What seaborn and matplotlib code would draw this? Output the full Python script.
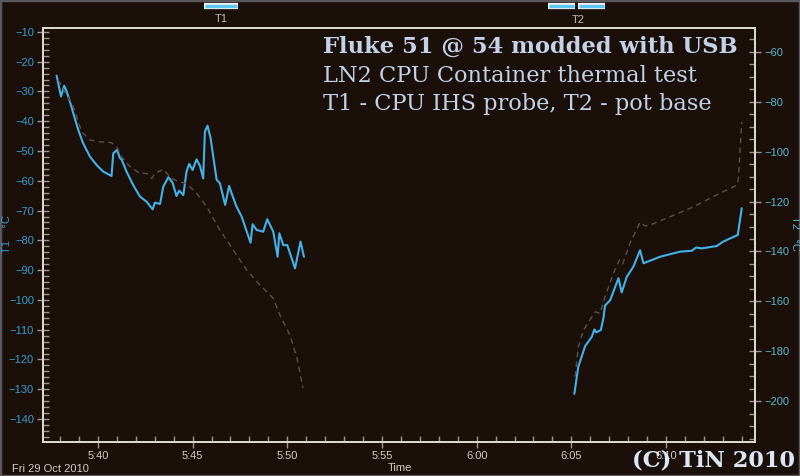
import matplotlib
matplotlib.use("Agg")
import numpy as np
import pandas as pd
import seaborn as sns
import matplotlib.pyplot as plt
from matplotlib.ticker import MultipleLocator, FuncFormatter
from matplotlib.lines import Line2D
from matplotlib.patches import Rectangle

# ---- data (time in minutes after 5:00, Fri 29 Oct 2010) ----
t1_a_time = [37.82, 38.05, 38.22, 38.35, 38.52, 38.70, 38.96, 39.22, 39.58, 39.93,
             40.28, 40.72, 40.81, 41.02, 41.16, 41.25, 41.51, 41.86, 42.22, 42.57,
             42.89, 43.01, 43.28, 43.45, 43.72, 43.94, 44.15, 44.29, 44.51, 44.68,
             44.82, 45.00, 45.21, 45.39, 45.56, 45.65, 45.79, 45.95, 46.27, 46.44,
             46.72, 46.93, 47.06, 47.32, 47.59, 48.06, 48.17, 48.38, 48.73, 48.94,
             49.26, 49.49, 49.58, 49.79, 50.00, 50.41, 50.70, 50.88]
t1_a_temp = [-24.7, -31.7, -28.1, -30.0, -33.4, -37.3, -42.9, -47.4, -51.9, -54.7,
             -56.9, -58.4, -50.8, -49.6, -52.4, -52.8, -56.9, -61.4, -65.3, -67.0,
             -69.6, -67.3, -67.8, -62.0, -58.8, -60.6, -65.1, -63.3, -64.8, -56.9,
             -54.3, -56.4, -52.8, -55.0, -59.2, -43.5, -41.5, -45.7, -59.7, -60.8,
             -68.1, -61.7, -64.2, -68.7, -72.0, -80.8, -74.6, -76.5, -77.1, -72.9,
             -77.1, -85.5, -77.6, -81.6, -81.6, -89.4, -80.4, -85.5]
t1_b_time = [65.16, 65.37, 65.73, 66.08, 66.22, 66.31, 66.56, 66.70, 66.78, 67.05,
             67.49, 67.66, 67.93, 68.28, 68.63, 68.81, 69.69, 70.74, 71.36, 71.59,
             71.89, 72.68, 73.03, 73.30, 73.79, 74.00]
t1_b_temp = [-131.5, -122.4, -115.5, -112.4, -109.9, -110.9, -110.1, -105.9, -101.9, -100.1,
             -92.7, -97.5, -92.2, -88.8, -83.3, -87.7, -85.5, -83.8, -83.5, -82.4,
             -82.7, -81.9, -80.4, -79.6, -78.2, -69.2]

t2_a_time = [37.90, 38.70, 39.14, 39.58, 40.10, 40.72, 40.99, 41.25, 41.69, 42.22,
             42.57, 42.84, 43.01, 43.45, 43.89, 44.24, 44.68, 45.21, 45.74, 46.44,
             47.15, 47.85, 48.56, 49.26, 49.61, 50.14, 50.51, 50.83]
t2_a_temp = [-71.2, -81.9, -92.0, -95.3, -96.0, -96.4, -98.0, -102.0, -106.0, -108.7,
             -108.7, -110.7, -108.7, -107.1, -110.7, -112.0, -112.7, -116.7, -122.0, -131.4,
             -139.4, -147.4, -153.5, -158.8, -165.5, -173.5, -182.7, -194.8]
t2_b_time = [65.20, 65.37, 65.64, 66.26, 66.52, 66.78, 67.22, 67.54, 67.71, 68.10,
             68.63, 68.89, 69.16, 70.21, 71.45, 72.50, 73.74, 73.82, 74.00]
t2_b_temp = [-190.2, -178.2, -171.5, -164.2, -164.8, -158.2, -148.8, -143.4, -145.0, -136.7,
             -128.3, -129.8, -129.4, -126.1, -122.1, -118.0, -113.4, -111.3, -88.0]

x_tick_labels_fmt = "{h}:{m:02d}"
title_lines = ["Fluke 51 @ 54 modded with USB",
               "LN2 CPU Container thermal test",
               "T1 - CPU IHS probe, T2 - pot base"]

df1 = pd.DataFrame({
    "time": t1_a_time + t1_b_time,
    "T1": t1_a_temp + t1_b_temp,
    "seg": ["a"] * len(t1_a_time) + ["b"] * len(t1_b_time),
})
df2 = pd.DataFrame({
    "time": t2_a_time + t2_b_time,
    "T2": t2_a_temp + t2_b_temp,
    "seg": ["a"] * len(t2_a_time) + ["b"] * len(t2_b_time),
})

# ---- style ----
BG = "#1b0f0a"
BLUE = "#42b2e8"
DASH = "#57524d"
SPINE = "#dcd8d2"
TICK = "#9c958e"
LEFT_LBL = "#3a9cd0"
RIGHT_LBL = "#5cb6c8"
XLBL = "#d2cdc8"
TITLE = "#c4d2e8"

sns.set_theme(style="dark")
plt.rcParams["font.family"] = ["Liberation Sans", "DejaVu Sans"]

fig = plt.figure(figsize=(8.0, 4.76), dpi=100, facecolor=BG)
ax = fig.add_axes([43 / 800, 34 / 476, 712 / 800, 414 / 476])
ax.set_facecolor(BG)
ax2 = ax.twinx()

sns.lineplot(data=df1, x="time", y="T1", units="seg", estimator=None, sort=False,
             ax=ax, color=BLUE, linewidth=1.5)
sns.lineplot(data=df2, x="time", y="T2", units="seg", estimator=None, sort=False,
             ax=ax2, color=DASH, linewidth=1.0, linestyle=(0, (4, 3)))

ax.set_xlim(37.1, 74.7)
ax.set_ylim(-147.7, -8.7)
ax2.set_ylim(-216.4, -50.4)

ax.xaxis.set_major_locator(MultipleLocator(5))
ax.xaxis.set_minor_locator(MultipleLocator(1))
ax.xaxis.set_major_formatter(FuncFormatter(
    lambda v, p: x_tick_labels_fmt.format(h=5 + int(round(v)) // 60, m=int(round(v)) % 60)))
ax.yaxis.set_major_locator(MultipleLocator(10))
ax.yaxis.set_minor_locator(MultipleLocator(2))
ax2.yaxis.set_major_locator(MultipleLocator(20))
ax2.yaxis.set_minor_locator(MultipleLocator(5))

for a in (ax, ax2):
    a.grid(False)
    for s in a.spines.values():
        s.set_color(SPINE)
        s.set_linewidth(1.4)
        s.set_visible(True)

ax.tick_params(axis="x", which="major", direction="inout", length=9, width=1, color=TICK,
               labelcolor=XLBL, labelsize=8, pad=2, bottom=True)
ax.tick_params(axis="x", which="minor", direction="in", length=4, width=1, color=TICK, bottom=True)
ax.tick_params(axis="y", which="major", direction="inout", length=9, width=1, color=TICK,
               labelcolor=LEFT_LBL, labelsize=8, pad=2, left=True)
ax.tick_params(axis="y", which="minor", direction="in", length=4, width=1, color=TICK, left=True)
ax2.tick_params(axis="y", which="major", direction="inout", length=9, width=1, color=TICK,
                labelcolor=RIGHT_LBL, labelsize=8, pad=2, right=True)
ax2.tick_params(axis="y", which="minor", direction="in", length=4, width=1, color=TICK, right=True)

ax.set_xlabel("")
ax.set_ylabel("")
ax2.set_ylabel("")

# axis labels
fig.text(400 / 800, 1 - 468 / 476, "Time", color=XLBL, fontsize=8, ha="center", va="center")
fig.text(12 / 800, 1 - 469 / 476, "Fri 29 Oct 2010", color=XLBL, fontsize=8, ha="left", va="center")
fig.text(7 / 800, 1 - 234 / 476, "T1    °C", color=LEFT_LBL, fontsize=8, rotation=90,
         ha="center", va="center")
fig.text(795 / 800, 1 - 233 / 476, "T2   °C", color=RIGHT_LBL, fontsize=8, rotation=270,
         ha="center", va="center")

# legend at top
def leg_bar(x0, x1, y):
    yy = 1 - y / 476
    fig.add_artist(Line2D([x0 / 800, x1 / 800], [yy, yy], color="#f0f0f0", linewidth=4.5,
                          solid_capstyle="butt", transform=fig.transFigure))
    fig.add_artist(Line2D([(x0 + 1) / 800, (x1 - 1) / 800], [yy, yy], color="#5cc6f2",
                          linewidth=2.4, solid_capstyle="butt", transform=fig.transFigure))

leg_bar(204, 238, 6)
fig.text(221 / 800, 1 - 19 / 476, "T1", color="#c0bcb8", fontsize=8, ha="center", va="center")
leg_bar(548, 575, 6)
leg_bar(578, 605, 6)
fig.text(578 / 800, 1 - 20 / 476, "T2", color="#c0bcb8", fontsize=8, ha="center", va="center")

# title block
fig.text(323 / 800, 1 - 47 / 476, title_lines[0], color=TITLE, fontsize=16.3, fontweight="bold",
         family="DejaVu Serif", ha="left", va="center")
fig.text(323 / 800, 1 - 76 / 476, title_lines[1], color=TITLE, fontsize=16.2,
         family="DejaVu Serif", ha="left", va="center")
fig.text(323 / 800, 1 - 104 / 476, title_lines[2], color=TITLE, fontsize=16.2,
         family="DejaVu Serif", ha="left", va="center")

# watermark
fig.text(632 / 800, 1 - 460 / 476, "(C) TiN 2010", color="#dce6f4", fontsize=16.2, fontweight="bold",
         family="DejaVu Serif", ha="left", va="center")

# outer frame
fig.add_artist(Rectangle((0, 0), 1, 1, transform=fig.transFigure, fill=False,
                         edgecolor="#5a585c", linewidth=2.5))

fig.savefig("out.png", dpi=100, facecolor=BG)
